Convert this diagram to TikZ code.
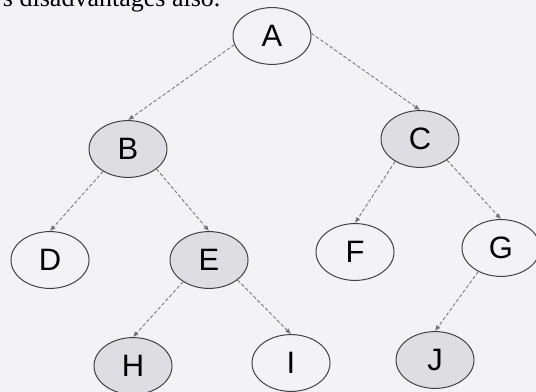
\documentclass[tikz,border=0pt]{standalone}
\usepackage{fontspec}
\setmainfont{Liberation Serif}
\newfontfamily\lettfont{Liberation Sans}
\usetikzlibrary{shapes.geometric,arrows.meta}
\definecolor{paper}{RGB}{243,243,246}
\definecolor{shade}{RGB}{222,222,226}
\tikzset{
  vert/.style={ellipse,draw=black!75,line width=0.7pt,minimum width=1.95cm,
    minimum height=1.42cm,inner sep=0pt,font=\lettfont\fontsize{22}{26}\selectfont},
  shaded/.style={vert,fill=shade},
  link/.style={draw=black!55,line width=0.6pt,dash pattern=on 2.5pt off 1.5pt,
    -{Latex[length=4pt,width=3.5pt]}}
}
\begin{document}
\begin{tikzpicture}[x=0.025cm,y=-0.025cm]
\useasboundingbox (0,0) rectangle (536,392);
\fill[paper] (0,0) rectangle (536,392);
\node[anchor=base west,font=\fontsize{18.5}{22}\selectfont] (txt) at (-2,7) {s disadvantages also.};
%
\node[vert] (A) at (272,36) {A};
%
\node[shaded] (B) at (128,149) {B};
\node[shaded] (C) at (420,139) {C};
%
\node[vert] (D) at (50,260) {D};
\node[shaded] (E) at (209,260) {E};
\node[vert] (F) at (355,252) {F};
\node[vert] (G) at (501,248) {G};
%
\node[shaded] (H) at (133,366) {H};
\node[vert] (I) at (291,363) {I};
\node[shaded] (J) at (435,360) {J};
%
\draw[link] (A.193) -- (B.north);
\draw[link] (A.4) -- (C.north);
\draw[link] (B.222) -- (D.north);
\draw[link] (B.325) -- (E.north);
\draw[link] (C.222) -- (F.north);
\draw[link] (C.322) -- (G.north);
\draw[link] (E.220) -- (H.north);
\draw[link] (E.325) -- (I.north);
\draw[link] (G.226) -- (J.north);
\end{tikzpicture}
\end{document}
